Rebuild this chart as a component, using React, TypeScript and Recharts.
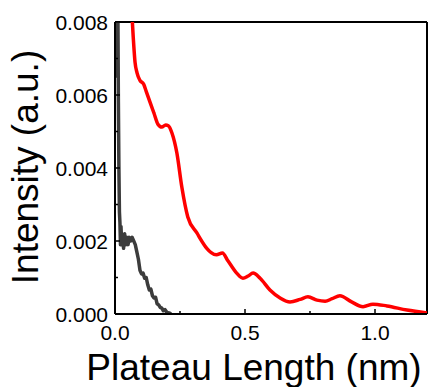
import React from 'react';
import { LineChart, Line, XAxis, YAxis, ReferenceLine, Label } from 'recharts';

const FONT = 'Arial, "Liberation Sans", sans-serif';

// red curve (x in nm, intensity)
const redX = [0.062, 0.07, 0.077, 0.085, 0.096, 0.11, 0.12, 0.135, 0.15, 0.165, 0.18, 0.195, 0.205, 0.219, 0.238, 0.257, 0.28, 0.315, 0.353, 0.37, 0.39, 0.413, 0.435, 0.468, 0.492, 0.512, 0.531, 0.558, 0.596, 0.635, 0.673, 0.712, 0.742, 0.777, 0.808, 0.835, 0.865, 0.91, 0.954, 0.992, 1.046, 1.123, 1.2];
const redY = [0.0086, 0.0076, 0.0069, 0.0066, 0.0064, 0.0063, 0.0061, 0.0058, 0.0055, 0.0052, 0.00512, 0.00518, 0.00516, 0.00496, 0.00441, 0.00348, 0.00266, 0.00222, 0.0018, 0.00168, 0.00162, 0.00167, 0.00145, 0.00112, 0.00098, 0.00104, 0.00112, 0.00098, 0.00066, 0.00044, 0.00033, 0.0004, 0.00047, 0.00038, 0.00035, 0.00042, 0.0005, 0.00033, 0.0002, 0.00027, 0.00022, 0.00011, 0.00003];

// dark grey curve
const greyX = [0.008, 0.01, 0.011, 0.013, 0.015, 0.017, 0.019, 0.021, 0.023, 0.026, 0.029, 0.033, 0.037, 0.041, 0.045, 0.05, 0.055, 0.06, 0.066, 0.072, 0.078, 0.084, 0.09, 0.096, 0.102, 0.108, 0.114, 0.12, 0.126, 0.132, 0.138, 0.144, 0.15, 0.156, 0.162, 0.168, 0.174, 0.18, 0.186, 0.192, 0.2, 0.208, 0.216];
const greyY = [0.0085, 0.0065, 0.0085, 0.0058, 0.0040, 0.0028, 0.0025, 0.0019, 0.0024, 0.0019, 0.0021, 0.0018, 0.0022, 0.0019, 0.0021, 0.0019, 0.0021, 0.002, 0.0021, 0.002, 0.0019, 0.0017, 0.0015, 0.0012, 0.0011, 0.00112, 0.00098, 0.001, 0.0008, 0.00066, 0.00068, 0.0005, 0.00044, 0.00046, 0.00028, 0.00025, 0.00018, 0.00016, 0.00009, 0.00012, 0.00004, 0.00003, 0.0];

const xTicks = [0, 0.25, 0.5, 0.75, 1.0];
const xLabeled = [0, 0.5, 1.0];
const yTicks = [0, 0.001, 0.002, 0.003, 0.004, 0.005, 0.006, 0.007, 0.008];
const yLabeled = [0, 0.002, 0.004, 0.006, 0.008];

const redData = redX.map((x, i) => ({ x, y: redY[i] }));
const greyData = greyX.map((x, i) => ({ x, y: greyY[i] }));

const isMajor = (list: number[], v: number) => list.some((m) => Math.abs(m - v) < 1e-9);

const XTick = (props: any) => {
    const { x, y, payload } = props;
    const major = isMajor(xLabeled, payload.value);
    return (
        <g>
            <line x1={x} x2={x} y1={y} y2={y - (major ? 5 : 3)} stroke="#000" strokeWidth={1.5} />
            {major && (
                <text x={x} y={y + 26} textAnchor="middle" fontSize={21} fontFamily={FONT} fill="#000">
                    {payload.value.toFixed(1)}
                </text>
            )}
        </g>
    );
};

const YTick = (props: any) => {
    const { x, y, payload } = props;
    const major = isMajor(yLabeled, payload.value);
    return (
        <g>
            <line x1={x} x2={x + (major ? 5 : 3)} y1={y} y2={y} stroke="#000" strokeWidth={1.5} />
            {major && (
                <text x={x - 7} y={y} dy="0.36em" textAnchor="end" fontSize={21} fontFamily={FONT} fill="#000">
                    {payload.value.toFixed(3)}
                </text>
            )}
        </g>
    );
};

const App = () => {
    return (
        <div style={{ position: 'absolute', left: 0, top: 0, width: 430, height: 387, background: '#fff' }}>
            <LineChart width={430} height={387} margin={{ top: 22, right: 3, bottom: 0, left: 0 }}>
                <XAxis
                    type="number"
                    dataKey="x"
                    domain={[0, 1.2]}
                    ticks={xTicks}
                    interval={0}
                    allowDataOverflow
                    height={73}
                    tickSize={0}
                    tickMargin={0}
                    tickLine={false}
                    tick={<XTick />}
                    axisLine={{ stroke: '#000', strokeWidth: 2 }}
                >
                    <Label
                        content={() => (
                            <text x={254} y={380} textAnchor="middle" fontSize={37} fontFamily={FONT} fill="#000">
                                Plateau Length (nm)
                            </text>
                        )}
                    />
                </XAxis>
                <YAxis
                    type="number"
                    dataKey="y"
                    domain={[0, 0.008]}
                    ticks={yTicks}
                    interval={0}
                    allowDataOverflow
                    width={115}
                    tickSize={0}
                    tickMargin={0}
                    tickLine={false}
                    tick={<YTick />}
                    axisLine={{ stroke: '#000', strokeWidth: 2 }}
                >
                    <Label
                        content={() => (
                            <text
                                x={25}
                                y={167}
                                transform="rotate(-90 25 167)"
                                textAnchor="middle"
                                dominantBaseline="central"
                                fontSize={37}
                                fontFamily={FONT}
                                fill="#000"
                            >
                                Intensity (a.u.)
                            </text>
                        )}
                    />
                </YAxis>
                <ReferenceLine y={0.008} stroke="#000" strokeWidth={2} />
                <ReferenceLine x={1.2} stroke="#000" strokeWidth={2} />
                <Line
                    data={greyData}
                    dataKey="y"
                    type="linear"
                    stroke="#3c3c3c"
                    strokeWidth={3.5}
                    strokeLinejoin="round"
                    dot={false}
                    isAnimationActive={false}
                />
                <Line
                    data={redData}
                    dataKey="y"
                    type="monotone"
                    stroke="#ff0000"
                    strokeWidth={3.5}
                    dot={false}
                    isAnimationActive={false}
                />
            </LineChart>
        </div>
    );
};

export default App;
